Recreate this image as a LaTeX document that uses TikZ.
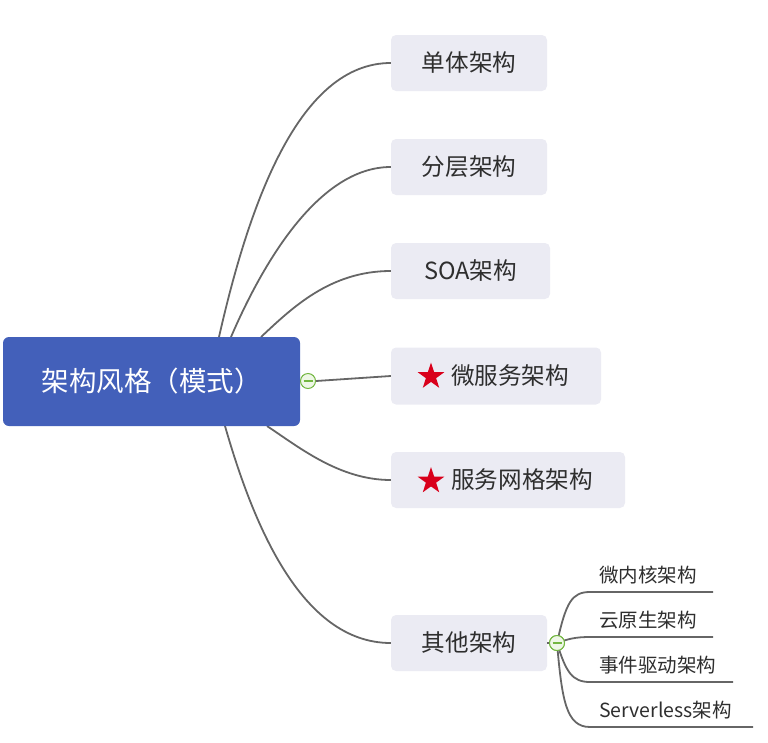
\documentclass[tikz,border=0pt]{standalone}
\usepackage{fontspec}
\setmainfont{Noto Sans CJK SC}
\usetikzlibrary{shapes.geometric}
\definecolor{rootblue}{HTML}{4360BA}
\definecolor{boxfill}{HTML}{EBEBF3}
\definecolor{txt}{HTML}{2E2E2E}
\definecolor{edgegray}{HTML}{666666}
\definecolor{starred}{HTML}{D9001B}
\definecolor{togglegreen}{HTML}{72B640}
\definecolor{togglefill}{HTML}{EEF7E6}
\tikzset{
  rootbox/.style={rectangle, rounded corners=6pt, fill=rootblue, text=white,
    minimum width=297pt, minimum height=89pt, inner sep=0pt,
    font=\fontsize{27.5}{28}\selectfont},
  childbox/.style={rectangle, rounded corners=5pt, fill=boxfill, text=txt,
    minimum height=56pt, inner sep=0pt, font=\fontsize{23.6}{24}\selectfont},
  subtext/.style={anchor=west, inner sep=0pt, text=txt, font=\fontsize{19.5}{20}\selectfont},
  conn/.style={draw=edgegray, line width=1.8pt},
  toggle/.style={circle, draw=togglegreen, fill=togglefill, line width=1pt,
    minimum size=15pt, inner sep=0pt},
  redstar/.style={star, star points=5, star point ratio=2.6, fill=starred,
    minimum size=28pt, inner sep=0pt},
}
\begin{document}
\begin{tikzpicture}[x=1pt, y=-1pt]
\useasboundingbox (0,0) rectangle (768,742);

% connector anchor coordinates
\coordinate (s1) at (219,337);
\coordinate (s2) at (231,337);
\coordinate (s3) at (261,337);
\coordinate (s5) at (267,426);
\coordinate (s6) at (225,426);

% child boxes
\node[childbox, minimum width=156pt] (dan) at (469,63) {单体架构};
\node[childbox, minimum width=156pt] (fen) at (469,167) {分层架构};
\node[childbox, minimum width=159pt] (soa) at (470.5,271) {SOA架构};
\node[childbox, minimum width=210pt, minimum height=57pt] (wei) at (496,376) {\hspace*{28pt}微服务架构};
\node[childbox, minimum width=234pt] (mesh) at (508,480) {\hspace*{28pt}服务网格架构};
\node[childbox, minimum width=156pt] (qita) at (469,643) {其他架构};
\node[redstar] (star1) at (431,376.5) {};
\node[redstar] (star2) at (431,481) {};

% connectors from root
\draw[conn] (s1) .. controls (250,200) and (300,63) .. (dan.west);
\draw[conn] (s2) .. controls (262,265) and (318,167) .. (fen.west);
\draw[conn] (s3) .. controls (292,308) and (330,271) .. (soa.west);
\draw[conn] (s5) .. controls (300,448) and (340,480) .. (mesh.west);
\draw[conn] (s6) .. controls (252,520) and (300,643) .. (qita.west);

% root
\node[rootbox] (root) at (151.5,381.5) {架构风格（模式）};
\node[toggle] (t1) at (308,381) {};
\draw[conn] (t1.east) -- (wei.west);
\draw[togglegreen, line width=1.1pt] ([xshift=-4.5pt]t1.center) -- ([xshift=4.5pt]t1.center);

% sub branches of 其他架构
\node[toggle] (t2) at (557,643) {};
\draw[conn] (qita.east) -- (t2.west);
\coordinate (u1) at (590,592);  \coordinate (e1) at (713,592);
\coordinate (u2) at (590,637);  \coordinate (e2) at (713,637);
\coordinate (u3) at (590,682);  \coordinate (e3) at (733,682);
\coordinate (u4) at (590,727);  \coordinate (e4) at (753,727);
\draw[conn] (t2.center) .. controls (566,602) and (572,592) .. (u1) -- (e1);
\draw[conn] (t2.center) .. controls (568,639) and (575,637) .. (u2) -- (e2);
\draw[conn] (t2.center) .. controls (566,672) and (572,682) .. (u3) -- (e3);
\draw[conn] (t2.center) .. controls (562,700) and (566,727) .. (u4) -- (e4);
\node[toggle] at (t2) {};
\draw[togglegreen, line width=1.1pt] ([xshift=-4.5pt]t2.center) -- ([xshift=4.5pt]t2.center);

\node[subtext] (k1) at (599,575) {微内核架构};
\node[subtext] (k2) at (599,620) {云原生架构};
\node[subtext] (k3) at (599,665) {事件驱动架构};
\node[subtext] (k4) at (599,710) {Serverless架构};
\end{tikzpicture}
\end{document}
